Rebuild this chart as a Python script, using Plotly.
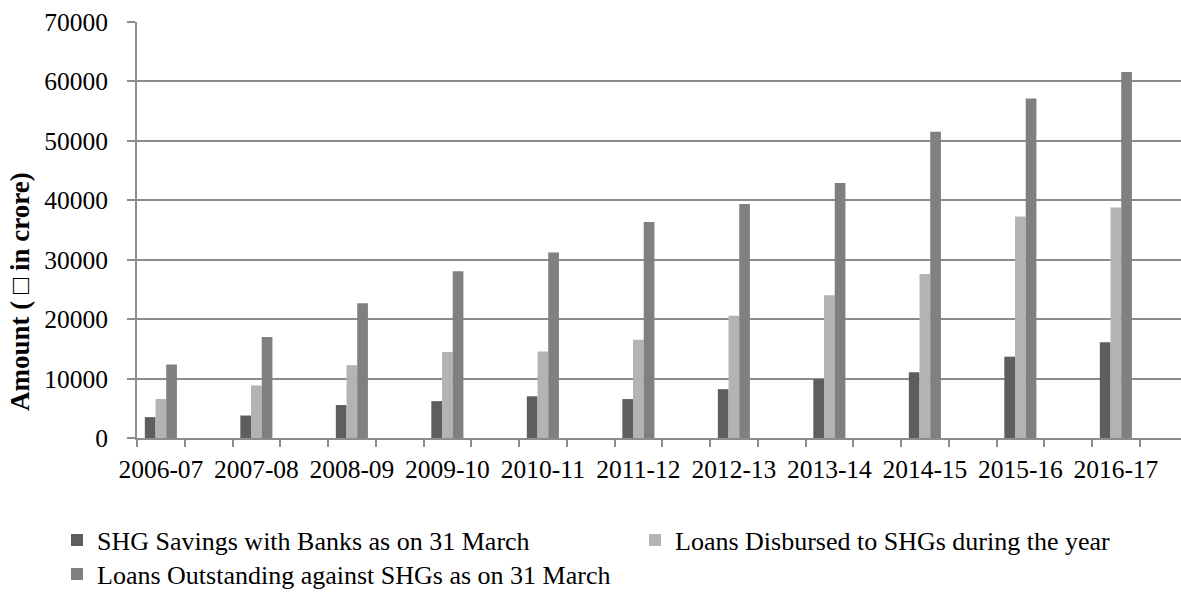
import plotly.graph_objects as go
import numpy as np

years = ["2006-07", "2007-08", "2008-09", "2009-10", "2010-11", "2011-12",
         "2012-13", "2013-14", "2014-15", "2015-16", "2016-17"]
savings = [3513, 3785, 5546, 6199, 7016, 6551, 8217, 9897, 11060, 13691, 16114]
disbursed = [6570, 8849, 12254, 14453, 14548, 16535, 20585, 24017, 27582, 37287, 38781]
outstanding = [12366, 17000, 22680, 28038, 31221, 36340, 39375, 42928, 51545, 57119, 61581]

series_names = ["SHG Savings with Banks as on 31 March",
                "Loans Disbursed to SHGs during the year",
                "Loans Outstanding against SHGs as on 31 March"]
colors = ["#5e5e5e", "#b3b3b3", "#808080"]

W, H = 1181, 592
FONT = "Liberation Serif"
GRAY = "#8c8c8c"

# categories sit on every other slot of a 22-slot category axis
xpos = [2 * i for i in range(len(years))]
bw = 0.224
offsets = [-1.5 * bw, -0.5 * bw, 0.5 * bw]
legends = ["legend", "legend2", "legend3"]

fig = go.Figure()
for name, vals, col, off, lg in zip(series_names, [savings, disbursed, outstanding],
                                    colors, offsets, legends):
    fig.add_trace(go.Bar(x=xpos, y=vals, name=name, marker_color=col,
                         marker_line_width=0, width=bw, offset=off, legend=lg))

left_px, right_px = 137, W
slot_px = 47.75
xmax = -0.5 + (right_px - left_px) / slot_px

fig.update_layout(
    width=W, height=H,
    margin=dict(l=left_px, r=W - right_px, t=22, b=H - 438, autoexpand=False),
    plot_bgcolor="white", paper_bgcolor="white",
    font=dict(family=FONT, size=26, color="black"),
    barmode="overlay",
    xaxis=dict(range=[-0.5, xmax], tickmode="array", tickvals=xpos, ticktext=years,
               ticks="", showgrid=False, showline=True, linecolor=GRAY, linewidth=1.6,
               tickfont=dict(size=25.5), ticklabelstandoff=8, automargin=False,
               minor=dict(tickmode="array", tickvals=list(np.arange(-0.5, 22, 1.0)),
                          ticks="outside", ticklen=7, tickcolor=GRAY, tickwidth=1.6,
                          showgrid=False),
               zeroline=False),
    yaxis=dict(range=[0, 70000], dtick=10000, tick0=0, showgrid=True, gridcolor=GRAY,
               gridwidth=1.6, showline=True, linecolor=GRAY, linewidth=1.6,
               ticks="outside", ticklen=8, tickcolor=GRAY, tickwidth=1.6,
               tickfont=dict(size=25.5), ticklabelstandoff=14, zeroline=False,
               tickformat="d", automargin=False),
    showlegend=True,
    legend=dict(xref="container", yref="container", x=57 / W, y=1 - 540 / H,
                xanchor="left", yanchor="middle", bgcolor="rgba(0,0,0,0)",
                font=dict(size=26)),
    legend2=dict(xref="container", yref="container", x=635 / W, y=1 - 540 / H,
                 xanchor="left", yanchor="middle", bgcolor="rgba(0,0,0,0)",
                 font=dict(size=26)),
    legend3=dict(xref="container", yref="container", x=57 / W, y=1 - 574 / H,
                 xanchor="left", yanchor="middle", bgcolor="rgba(0,0,0,0)",
                 font=dict(size=26)),
    annotations=[dict(text="<b>Amount ( \u25a1 in crore)</b>", xref="paper", yref="paper",
                      x=-(left_px - 20) / (right_px - left_px), y=(438 - 292) / (438 - 22),
                      xanchor="center", yanchor="middle", textangle=-90, showarrow=False,
                      font=dict(family=FONT, size=27, color="black"))],
)

fig.write_html("out.html")
